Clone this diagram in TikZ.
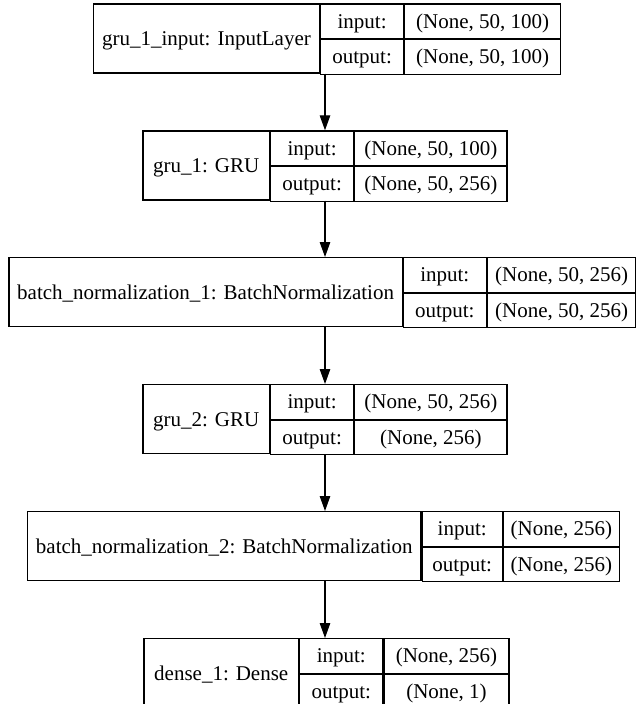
\documentclass[tikz,border=0pt]{standalone}
\usepackage{fontspec}
\setmainfont{Liberation Serif}
\usepackage{tikz}
\usetikzlibrary{arrows.meta, positioning}

\begin{document}
\begin{tikzpicture}[
        x=1pt, y=-1pt,
        font=\fontsize{21}{25}\selectfont,
        % one field of a layer record
        namecell/.style={draw, line width=1.2pt, anchor=north west, inner sep=0pt,
            minimum height=69pt, text height=14pt, text depth=0pt},
        iocell/.style={namecell, minimum height=34.5pt},
        flow/.style={-{Triangle[length=15pt, width=10.5pt]}, line width=1.2pt}
    ]
    \useasboundingbox (0,0) rectangle (636,704);
    \coordinate (axis) at (325,0);

    % gru_1_input
    \node[namecell, minimum width=226.3pt] (inp) at (92.7,3.3) {gru\_1\_input: InputLayer};
    \node[iocell, minimum width=82.7pt] (inp_i) at (inp.north east) {input:};
    \node[iocell, minimum width=82.7pt] (inp_o) at (inp_i.south west) {output:};
    \node[iocell, minimum width=156pt] (inp_iv) at (inp_i.north east) {(None, 50, 100)};
    \node[iocell, minimum width=156pt] (inp_ov) at (inp_iv.south west) {(None, 50, 100)};

    % gru_1
    \node[namecell, minimum width=126.7pt] (gru1) at (142.3,130.3) {gru\_1: GRU};
    \node[iocell, minimum width=82.7pt] (gru1_i) at (gru1.north east) {input:};
    \node[iocell, minimum width=82.7pt] (gru1_o) at (gru1_i.south west) {output:};
    \node[iocell, minimum width=152.3pt] (gru1_iv) at (gru1_i.north east) {(None, 50, 100)};
    \node[iocell, minimum width=152.3pt] (gru1_ov) at (gru1_iv.south west) {(None, 50, 256)};

    % batch_normalization_1
    \node[namecell, minimum width=393.4pt] (bn1) at (8.3,257) {batch\_normalization\_1: BatchNormalization};
    \node[iocell, minimum width=82.6pt] (bn1_i) at (bn1.north east) {input:};
    \node[iocell, minimum width=82.6pt] (bn1_o) at (bn1_i.south west) {output:};
    \node[iocell, minimum width=148.7pt] (bn1_iv) at (bn1_i.north east) {(None, 50, 256)};
    \node[iocell, minimum width=148.7pt] (bn1_ov) at (bn1_iv.south west) {(None, 50, 256)};

    % gru_2
    \node[namecell, minimum width=126.7pt] (gru2) at (142.3,384) {gru\_2: GRU};
    \node[iocell, minimum width=82.7pt] (gru2_i) at (gru2.north east) {input:};
    \node[iocell, minimum width=82.7pt] (gru2_o) at (gru2_i.south west) {output:};
    \node[iocell, minimum width=152.3pt] (gru2_iv) at (gru2_i.north east) {(None, 50, 256)};
    \node[iocell, minimum width=152.3pt] (gru2_ov) at (gru2_iv.south west) {(None, 256)};

    % batch_normalization_2
    \node[namecell, minimum width=393.4pt] (bn2) at (27,511) {batch\_normalization\_2: BatchNormalization};
    \node[iocell, minimum width=80pt] (bn2_i) at (bn2.north east) {input:};
    \node[iocell, minimum width=80pt] (bn2_o) at (bn2_i.south west) {output:};
    \node[iocell, minimum width=116pt] (bn2_iv) at (bn2_i.north east) {(None, 256)};
    \node[iocell, minimum width=116pt] (bn2_ov) at (bn2_iv.south west) {(None, 256)};

    % dense_1
    \node[namecell, minimum width=154.7pt] (dense1) at (143.3,638) {dense\_1: Dense};
    \node[iocell, minimum width=83pt] (dense1_i) at (dense1.north east) {input:};
    \node[iocell, minimum width=83pt] (dense1_o) at (dense1_i.south west) {output:};
    \node[iocell, minimum width=125pt] (dense1_iv) at (dense1_i.north east) {(None, 256)};
    \node[iocell, minimum width=125pt] (dense1_ov) at (dense1_iv.south west) {(None, 1)};

    \draw[flow] (inp.south -| axis) -- (gru1.north -| axis);
    \draw[flow] (gru1.south -| axis) -- (bn1.north -| axis);
    \draw[flow] (bn1.south -| axis) -- (gru2.north -| axis);
    \draw[flow] (gru2.south -| axis) -- (bn2.north -| axis);
    \draw[flow] (bn2.south -| axis) -- (dense1.north -| axis);
\end{tikzpicture}
\end{document}
